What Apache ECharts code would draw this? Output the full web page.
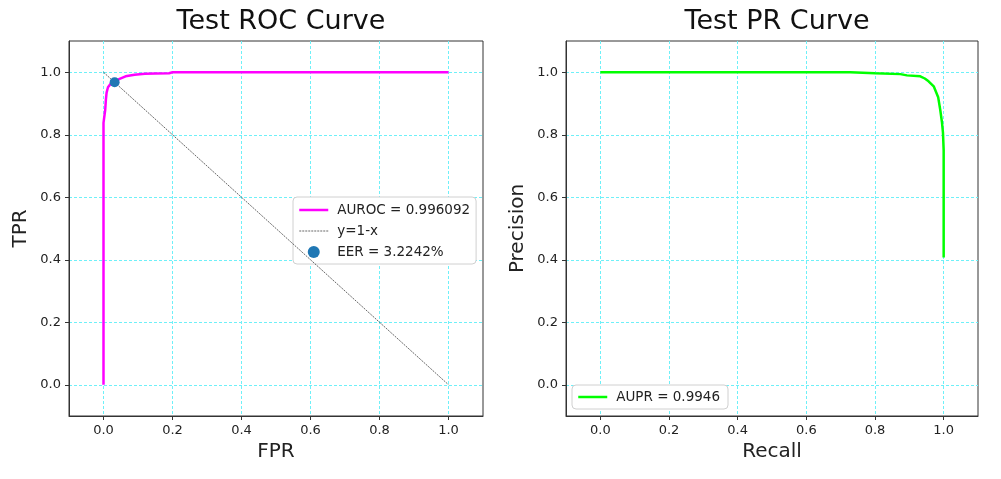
<!DOCTYPE html>
<html>
<head>
<meta charset="utf-8">
<script src="https://cdn.jsdelivr.net/npm/echarts@6/dist/echarts.min.js"></script>
<style>
  html, body { margin: 0; padding: 0; background: #fff; }
  #main { width: 1001px; height: 479px; }
</style>
</head>
<body>
<div id="main"></div>
<script>
// ROC curve points
var rocFpr = [0, 0, 0.001, 0.004, 0.005, 0.007, 0.009, 0.013, 0.02, 0.032, 0.045, 0.064, 0.09, 0.12, 0.15, 0.19, 0.2, 1.0];
var rocTpr = [0, 0.838, 0.84, 0.843, 0.88, 0.913, 0.935, 0.952, 0.962, 0.968, 0.978, 0.987, 0.992, 0.995, 0.996, 0.997, 1.0, 1.0];
// diagonal y = 1 - x
var diagX = [0, 1];
var diagY = [1, 0];
// equal error rate point
var eerPoint = [0.032242, 0.967758];
// PR curve points
var prRecall = [0, 0.3, 0.6, 0.728, 0.8, 0.874, 0.893, 0.932, 0.945, 0.956, 0.971, 0.976, 0.984, 0.99, 0.995, 0.998, 1.0, 1.0];
var prPrecision = [1.0, 1.0, 1.0, 1.0, 0.997, 0.994, 0.99, 0.987, 0.98, 0.971, 0.955, 0.95, 0.92, 0.88, 0.84, 0.806, 0.75, 0.407];
// ticks
var tickValues = [0, 0.2, 0.4, 0.6, 0.8, 1.0];

function zip(a, b) {
  return a.map(function (v, i) { return [v, b[i]]; });
}

var FONT = 'DejaVu Sans';
var gridColor = '#6ef0f8';

function makeAxis(gridIndex, name, isY) {
  return {
    type: 'value',
    gridIndex: gridIndex,
    min: -0.1,
    max: 1.1,
    name: name,
    nameLocation: 'middle',
    nameGap: isY ? 38 : 26,
    nameTextStyle: { fontFamily: FONT, fontSize: 20, color: '#222' },
    axisLine: { show: true, onZero: false, lineStyle: { color: '#333', width: 1 } },
    axisTick: { show: true, length: 4, inside: false, customValues: tickValues, lineStyle: { color: '#333' } },
    axisLabel: {
      customValues: tickValues,
      margin: 8,
      fontFamily: FONT,
      fontSize: 13,
      color: '#222',
      formatter: function (v) { return v.toFixed(1); }
    },
    splitLine: { show: true, lineStyle: { color: gridColor, type: [3, 2], width: 1 } }
  };
}

var myChart = echarts.init(document.getElementById('main'));

var option = {
  backgroundColor: '#fff',
  animation: false,
  title: [
    { text: 'Test ROC Curve', left: 276, top: 3, textAlign: 'center',
      textStyle: { fontFamily: FONT, fontSize: 27, fontWeight: 'normal', color: '#111' } },
    { text: 'Test PR Curve', left: 772, top: 3, textAlign: 'center',
      textStyle: { fontFamily: FONT, fontSize: 27, fontWeight: 'normal', color: '#111' } }
  ],
  grid: [
    { left: 69, top: 41, width: 414, height: 375, show: true, borderColor: '#333', borderWidth: 1, backgroundColor: 'transparent' },
    { left: 566, top: 41, width: 412, height: 375, show: true, borderColor: '#333', borderWidth: 1, backgroundColor: 'transparent' }
  ],
  xAxis: [makeAxis(0, 'FPR', false), makeAxis(1, 'Recall', false)],
  yAxis: [makeAxis(0, 'TPR', true), makeAxis(1, 'Precision', true)],
  legend: [
    {
      orient: 'vertical',
      left: 293, top: 197,
      padding: [6, 6, 5, 5],
      itemGap: 7,
      itemWidth: 29, itemHeight: 12,
      backgroundColor: '#fff',
      borderColor: '#d0d0d0', borderWidth: 1, borderRadius: 4,
      textStyle: { fontFamily: FONT, fontSize: 13.5, color: '#222', padding: [0, 0, 0, 4] },
      data: [
        { name: 'AUROC = 0.996092', icon: 'line',
          itemStyle: { color: '#ff00ff', borderColor: '#ff00ff', borderWidth: 2.5 } },
        { name: 'y=1-x', icon: 'line',
          itemStyle: { color: '#000', borderColor: '#000', borderWidth: 0.6, borderType: [2, 1] } },
        { name: 'EER = 3.2242%', icon: 'circle' }
      ]
    },
    {
      orient: 'vertical',
      left: 572, top: 385,
      padding: [5, 8, 5, 5],
      itemWidth: 29, itemHeight: 12,
      backgroundColor: '#fff',
      borderColor: '#d0d0d0', borderWidth: 1, borderRadius: 4,
      textStyle: { fontFamily: FONT, fontSize: 13.5, color: '#222', padding: [0, 0, 0, 4] },
      data: [{ name: 'AUPR = 0.9946', icon: 'line',
        itemStyle: { color: '#00ff00', borderColor: '#00ff00', borderWidth: 2.5 } }]
    }
  ],
  series: [
    {
      name: 'AUROC = 0.996092',
      type: 'line',
      xAxisIndex: 0, yAxisIndex: 0,
      data: zip(rocFpr, rocTpr),
      symbol: 'none',
      lineStyle: { color: '#ff00ff', width: 2.5 },
      itemStyle: { color: '#ff00ff' },
      z: 3
    },
    {
      name: 'y=1-x',
      type: 'line',
      xAxisIndex: 0, yAxisIndex: 0,
      data: zip(diagX, diagY),
      symbol: 'none',
      lineStyle: { color: '#000', width: 0.6, type: [2, 1] },
      itemStyle: { color: '#000' },
      z: 4
    },
    {
      name: 'EER = 3.2242%',
      type: 'scatter',
      xAxisIndex: 0, yAxisIndex: 0,
      data: [eerPoint],
      symbolSize: 10,
      itemStyle: { color: '#1f77b4', opacity: 1 },
      z: 5
    },
    {
      name: 'AUPR = 0.9946',
      type: 'line',
      xAxisIndex: 1, yAxisIndex: 1,
      data: zip(prRecall, prPrecision),
      symbol: 'none',
      lineStyle: { color: '#00ff00', width: 2.5 },
      itemStyle: { color: '#00ff00' },
      z: 3
    }
  ]
};

myChart.setOption(option);
</script>
</body>
</html>
